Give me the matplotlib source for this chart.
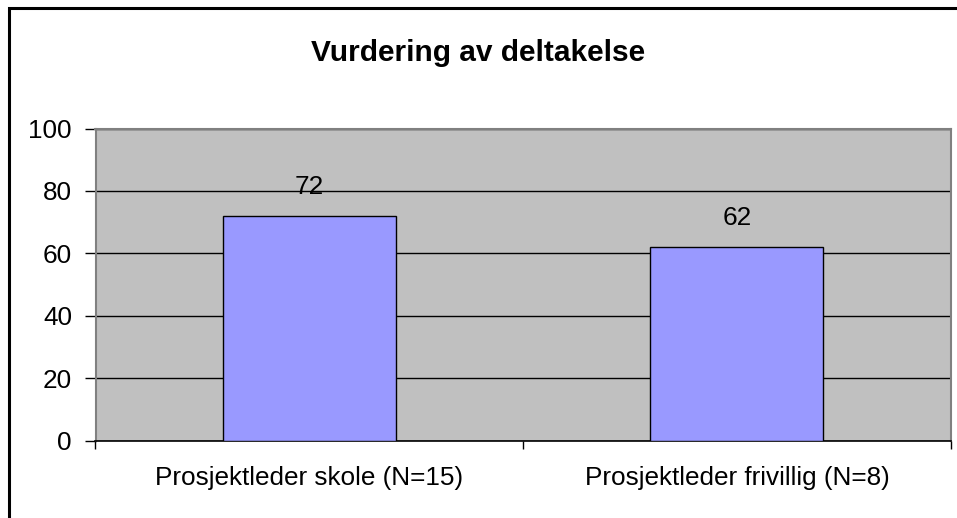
import matplotlib
matplotlib.use("Agg")
import matplotlib.pyplot as plt
from matplotlib.patches import Rectangle

categories = ["Prosjektleder skole (N=15)", "Prosjektleder frivillig (N=8)"]
values = [72, 62]
yticks = [0, 20, 40, 60, 80, 100]
title = "Vurdering av deltakelse"

plt.rcParams['font.family'] = ['Liberation Sans', 'DejaVu Sans']

W, H = 957, 518
fig = plt.figure(figsize=(W / 100, H / 100), dpi=100)
fig.patch.set_facecolor("white")

# figure border
fig.patches.append(Rectangle((9 / W, -0.1), 1.2, (H - 8) / H + 0.1, transform=fig.transFigure,
                             fill=False, edgecolor="black", linewidth=2.2, zorder=10))

left, right, top, bottom = 95.5, 950.7, 128.5, 440.7
ax = fig.add_axes([left / W, 1 - bottom / H, (right - left) / W, (bottom - top) / H])
ax.set_facecolor("#C0C0C0")

fs = 18.8
x = list(range(len(categories)))
ax.bar(x, values, width=0.405, color="#9999FF", edgecolor="black", linewidth=1.0, zorder=3)
for xi, v in zip(x, values):
    ax.text(xi, v + 9.3, f"{v}", ha="center", va="center", fontsize=fs, zorder=4)

ax.set_xlim(-0.5, len(categories) - 0.5)
ax.set_ylim(0, 100)
ax.set_yticks(yticks)
ax.tick_params(axis="y", direction="out", length=8, width=1, labelsize=fs, pad=9, color="black")
ax.yaxis.grid(True, color="black", linewidth=1.0, zorder=1)
ax.set_axisbelow(True)

ax.set_xticks([-0.5, 0.5, 1.5])
ax.set_xticklabels([])
ax.set_xticks(x, minor=True)
ax.set_xticklabels(categories, minor=True)
ax.tick_params(axis="x", which="major", direction="out", length=6, width=1, color="black")
ax.tick_params(axis="x", which="minor", length=0, labelsize=fs, pad=18)

for s in ["top", "right"]:
    ax.spines[s].set_color("#808080")
    ax.spines[s].set_linewidth(1.5)
ax.spines["left"].set_color("#808080")
ax.spines["left"].set_linewidth(1.5)
ax.spines["bottom"].set_color("black")
ax.spines["bottom"].set_linewidth(1.2)

fig.text(0.5, 1 - 53 / H, title, ha="center", va="center", fontsize=21.5, fontweight="bold")

fig.savefig("out.png", dpi=100, facecolor="white")
